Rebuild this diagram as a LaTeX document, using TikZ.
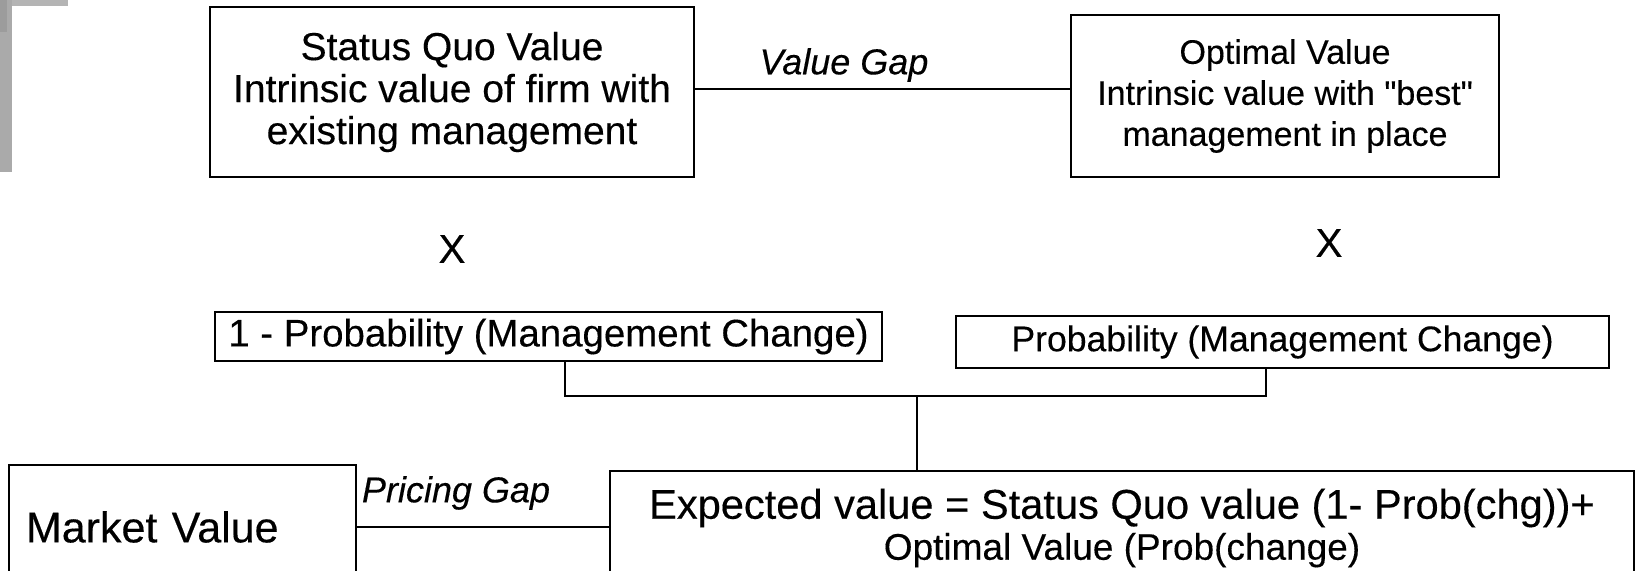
\documentclass[tikz,border=0pt]{standalone}
\usepackage{fontspec}
\setmainfont{Liberation Sans}[FakeBold=0.3]
\tikzset{
  box/.style={draw=black, line width=1.2pt, align=center, inner sep=0pt},
  conn/.style={draw=black, line width=1.2pt},
  fsq/.style={font=\fontsize{19.5}{21}\selectfont},
  fopt/.style={font=\fontsize{17}{20.5}\selectfont},
  fpone/.style={font=\fontsize{19.2}{20.5}\selectfont},
  fptwo/.style={font=\fontsize{17.8}{20.5}\selectfont},
  fev/.style={font=\fontsize{20.8}{20.5}\selectfont},
  fmv/.style={font=\fontsize{21.5}{22}\selectfont},
  gaplabel/.style={inner sep=0pt, font=\fontsize{18}{20}\selectfont\itshape},
  times/.style={inner sep=0pt, font=\fontsize{20}{22}\selectfont},
}
\begin{document}
\begin{tikzpicture}[x=0.5pt,y=-0.5pt]
\useasboundingbox (0,0) rectangle (1641,571);
\clip (0,0) rectangle (1641,571);
% grey corner marks
\fill[color={rgb,255:red,180;green,180;blue,180}] (0,0) rectangle (68,6);
\fill[color={rgb,255:red,170;green,170;blue,170}] (0,0) rectangle (12,172);
\fill[color={rgb,255:red,156;green,156;blue,156}] (0,0) rectangle (7,32);

% top row
\node[box, fsq, minimum width=242pt, minimum height=85pt] (sq) at (452,92)
  {Status Quo Value\\Intrinsic value of firm with\\existing management};
\node[box, fopt, minimum width=214pt, minimum height=81pt] (opt) at (1285,96)
  {Optimal Value\\Intrinsic value with \textquotedbl best\textquotedbl\\management in place};
\node[gaplabel] (vg) at (844,65) {Value Gap};
\coordinate (vgl) at (0,89);
\draw[conn] (sq.east |- vgl) -- (opt.west |- vgl);

% multiplication signs
\node[times] (x1) at (452,249) {X};
\node[times] (x2) at (1329,243) {X};

% probability boxes
\node[box, fpone, minimum width=333.5pt, minimum height=24.5pt] (p1) at (548.5,336.5)
  {1 - Probability (Management Change)};
\node[box, fptwo, minimum width=326.5pt, minimum height=26pt] (p2) at (1282.5,342)
  {Probability (Management Change)};

% bottom row
\node[box, fev, minimum width=512pt, minimum height=57pt] (ev) at (1122,528)
  {Expected value = Status Quo value (1- Prob(chg))+\\{\fontsize{18.5}{20.5}\selectfont Optimal Value (Prob(change)}};
\node[box, fmv, align=left, inner xsep=8.5pt, text width=156.5pt, minimum height=62pt] (mv) at (182.5,527)
  {Market Value};
\node[gaplabel] (pg) at (456,493) {Pricing Gap};
\draw[conn] (mv.east) -- (mv.east -| ev.west);

% bracket joining the probabilities
\coordinate (bl) at (565,396);
\coordinate (br) at (1266,396);
\coordinate (bm) at (917,396);
\draw[conn] (p1.south -| bl) -- (bl) -- (br) -- (p2.south -| br);
\draw[conn] (bm) -- (ev.north -| bm);
\end{tikzpicture}
\end{document}
